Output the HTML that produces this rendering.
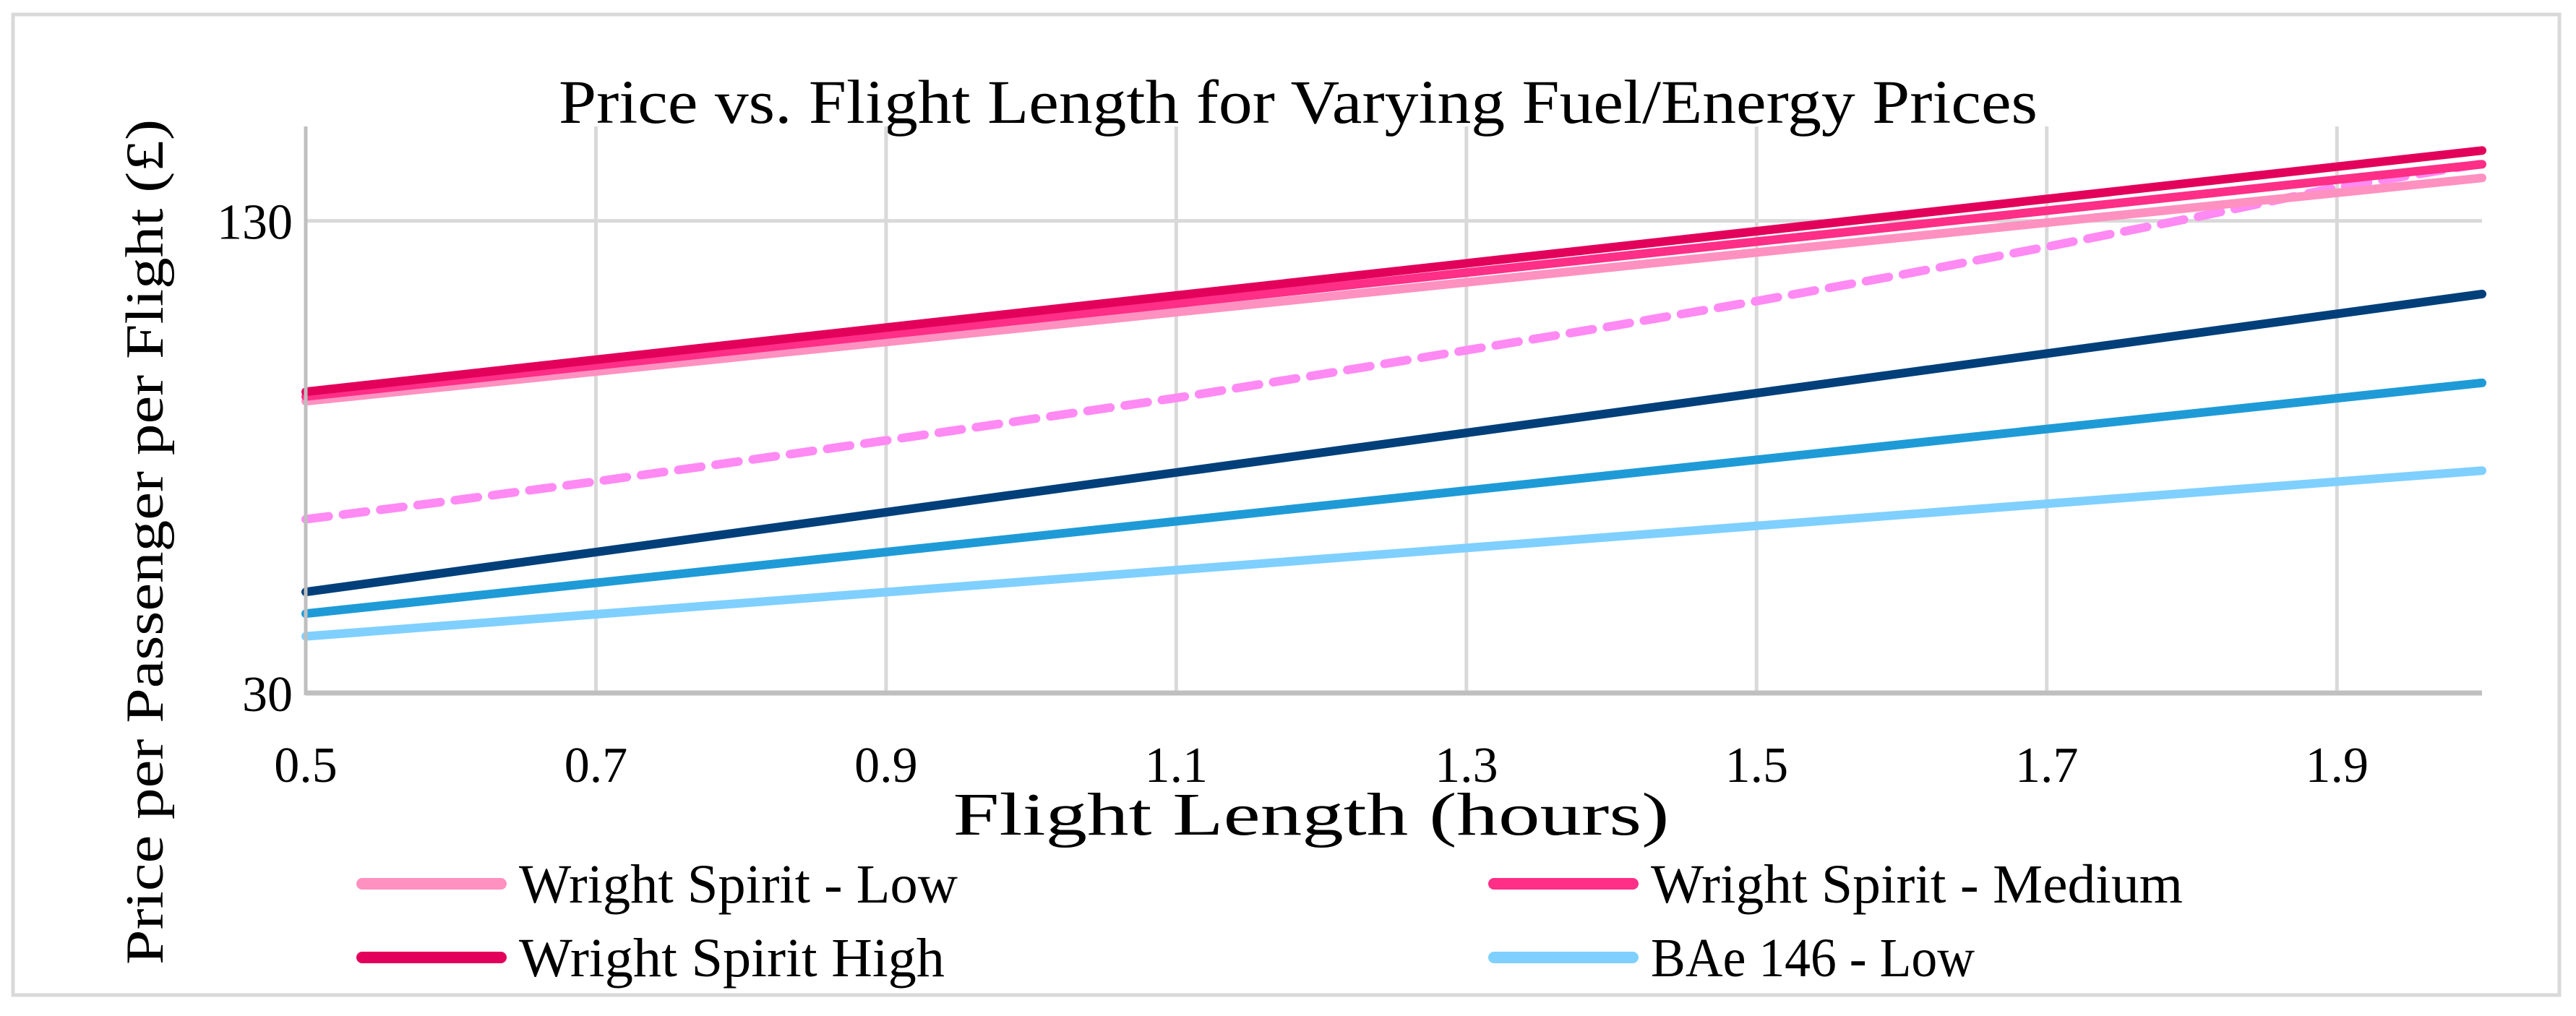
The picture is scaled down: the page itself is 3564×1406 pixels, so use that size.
<!DOCTYPE html>
<html><head><meta charset="utf-8"><style>
html,body{margin:0;padding:0;background:#fff;}
svg{display:block;font-family:"Liberation Serif",serif;}
</style></head><body>
<svg id="chart" width="3564" height="1406" viewBox="0 0 3564 1406" xmlns="http://www.w3.org/2000/svg">
<rect x="18" y="20" width="3523" height="1357" fill="#fff" stroke="#d9d9d9" stroke-width="5"/>
<text x="1796" y="170" font-size="86" text-anchor="middle" textLength="2046" lengthAdjust="spacingAndGlyphs">Price vs. Flight Length for Varying Fuel/Energy Prices</text>
<g id="grid"></g>
<g id="series"></g>
<g id="axes"></g>
<text x="1814" y="1155" font-size="84" text-anchor="middle" textLength="991" lengthAdjust="spacingAndGlyphs">Flight Length (hours)</text>
<text transform="translate(200,750) rotate(-90)" x="0" y="25" font-size="74" text-anchor="middle" textLength="1170" lengthAdjust="spacingAndGlyphs">Price per Passenger per Flight (£)</text>
<g id="legend"></g>
</svg>
<script>
const xValues = [0.5, 1.0, 1.5, 2.0];
const dashedX = [0.5,0.6,0.7,0.8,0.9,1.0,1.1,1.2,1.3,1.4,1.5,1.6,1.7,1.8,1.9,2.0];
const wsLow = [91.8, 107.5, 123.3, 139.1];
const wsMedium = [92.8, 109.2, 125.6, 142.0];
const wsHigh = [93.8, 110.8, 127.8, 144.9];
const dashedSeries = [66.8,70.7,74.8,79.1,83.5,88,92.5,97.5,102.6,107.7,113,118.6,124.5,130.6,137.1,142.1];
const bae146Dark = [51.4, 72.5, 93.5, 114.5];
const bae146Mid = [46.8, 63.1, 79.4, 95.7];
const bae146Low = [42.0, 53.7, 65.4, 77.1];
const xTicks = [0.5, 0.7, 0.9, 1.1, 1.3, 1.5, 1.7, 1.9];
const yTicks = [30, 130];
const legendLabels = ["Wright Spirit - Low", "Wright Spirit - Medium", "Wright Spirit High", "BAe 146 - Low"];

const NS = "http://www.w3.org/2000/svg";
const L = 423, R = 3434, T = 175, B = 959;
const xMin = 0.5, xMax = 2.0, yMin = 30, yMax = 150;
function sx(v){ return L + (v - xMin) / (xMax - xMin) * (R - L); }
function sy(v){ return B - (v - yMin) / (yMax - yMin) * (B - T); }
function mk(tag, attrs, parent){ const e = document.createElementNS(NS, tag); for (const k in attrs) e.setAttribute(k, attrs[k]); parent.appendChild(e); return e; }

const grid = document.getElementById('grid');
xTicks.forEach(t => {
  if (t === xMin) return;
  const g = mk('line', {x1: sx(t), x2: sx(t), y1: T, y2: B, stroke: '#d9d9d9', 'stroke-width': 5}, grid);
  
  
});
yTicks.forEach(t => {
  if (t === yMin) return;
  const g = mk('line', {x1: L, x2: R, y1: sy(t), y2: sy(t), stroke: '#d9d9d9', 'stroke-width': 5}, grid);
  
  
});

const axes = document.getElementById('axes');
const xa = mk('line', {x1: L, x2: R, y1: B, y2: B, stroke: '#bfbfbf', 'stroke-width': 7}, axes);


const ya = mk('line', {x1: L, x2: L, y1: T, y2: B + 3, stroke: '#bfbfbf', 'stroke-width': 5}, axes);


xTicks.forEach(t => {
  const tx = mk('text', {x: sx(t), y: 1082, 'font-size': 70, 'text-anchor': 'middle'}, axes);
  tx.textContent = t.toFixed(1);
  
  
});
yTicks.forEach(t => {
  const tx = mk('text', {x: 405, y: sy(t) + 25, 'font-size': 70, 'text-anchor': 'end'}, axes);
  tx.textContent = String(t);
  
  
});

const series = document.getElementById('series');
function drawLine(xs, ys, color, name, dash){
  const d = xs.map((x, i) => (i ? 'L' : 'M') + sx(x).toFixed(1) + ' ' + sy(ys[i]).toFixed(1)).join(' ');
  const p = mk('path', {d: d, fill: 'none', stroke: color, 'stroke-width': 12, 'stroke-linecap': 'round'}, series);
  if (dash) p.setAttribute('stroke-dasharray', '32 20');
  
  
}
drawLine(xValues, bae146Low, '#7fd0ff', 'line-bae146-low');
drawLine(xValues, bae146Mid, '#1e9bd7', 'line-bae146-medium');
drawLine(xValues, bae146Dark, '#003f7a', 'line-bae146-high');
drawLine(dashedX, dashedSeries, '#ff8af4', 'line-dashed-series', true);
drawLine(xValues, wsLow, '#ff91c0', 'line-wright-spirit-low');
drawLine(xValues, wsMedium, '#ff2e87', 'line-wright-spirit-medium');
drawLine(xValues, wsHigh, '#e3005b', 'line-wright-spirit-high');

const legend = document.getElementById('legend');
const legColors = ['#ff91c0', '#ff2e87', '#e3005b', '#7fd0ff'];
const legPos = [[493, 1223], [2059, 1223], [493, 1325], [2059, 1325]];
const legWidths = [607, 736, 589, 448];
legendLabels.forEach((lab, i) => {
  const [x, y] = legPos[i];
  const g = mk('g', {}, legend);
  
  
  const s = mk('line', {x1: x + 8, x2: x + 200, y1: y, y2: y, stroke: legColors[i], 'stroke-width': 16, 'stroke-linecap': 'round'}, g);
  
  
  const t = mk('text', {x: x + 225, y: y + 26, 'font-size': 76, textLength: legWidths[i], lengthAdjust: 'spacingAndGlyphs'}, g);
  t.textContent = lab;
  
  
});
</script>
</body></html>
